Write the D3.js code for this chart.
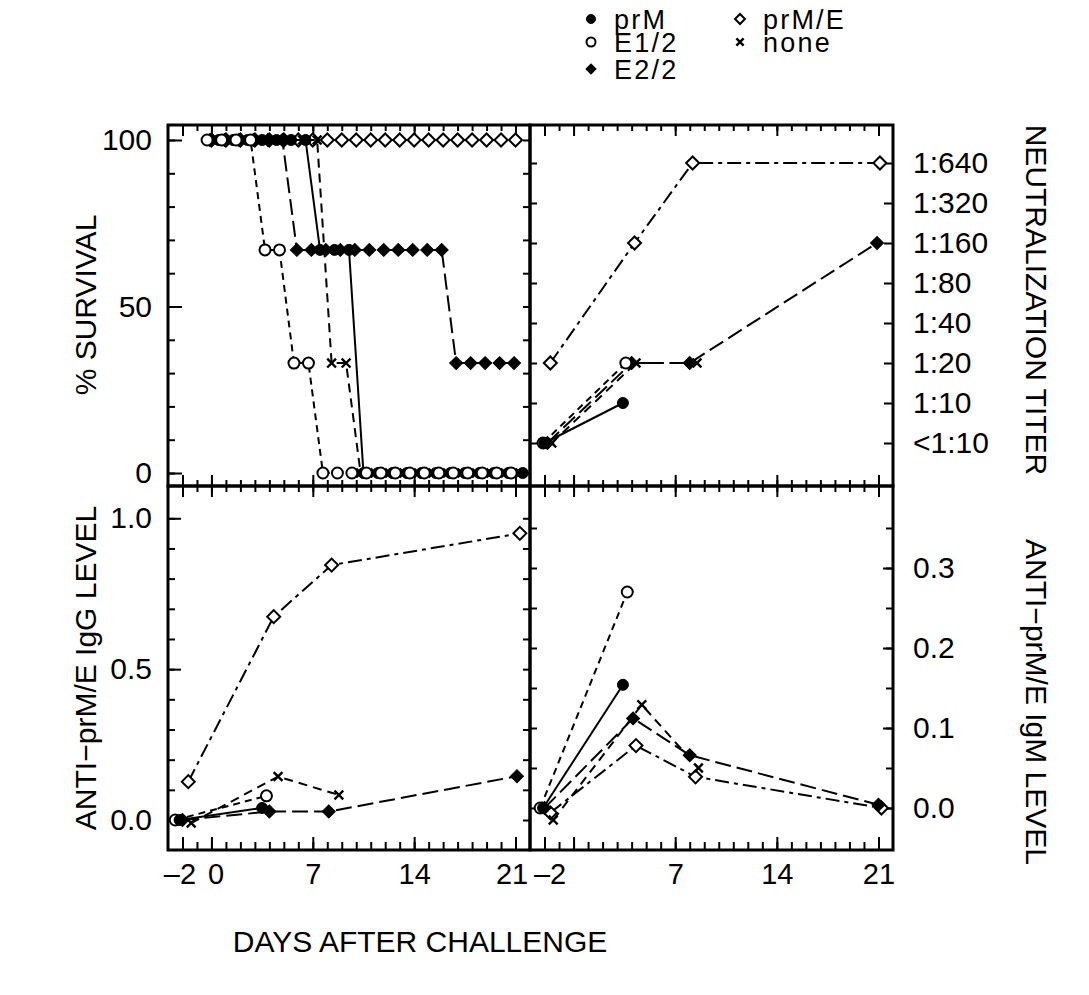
<!DOCTYPE html>
<html>
<head>
<meta charset="utf-8">
<script src="https://cdn.jsdelivr.net/npm/d3@7"></script>
<style>
body { margin: 0; background: #fff; }
</style>
</head>
<body>
<script>
// ---- data ----
var groups = ["prM", "E1/2", "E2/2", "prM/E", "none"];

// % survival, one point per day (each group drawn slightly shifted in x)
var survDaysPrM = [0.5, 1.5, 2.5, 3.5, 4.5, 5.5, 6.5, 7.5, 8.5, 9.5, 10.5, 11.5, 12.5, 13.5, 14.5, 15.5, 16.5, 17.5, 18.5, 19.5, 20.5, 21.5];
var survPrM = [100, 100, 100, 100, 100, 100, 100, 67, 67, 67, 0, 0, 0, 0, 0, 0, 0, 0, 0, 0, 0, 0];
var survDaysE12 = [-0.3, 0.7, 1.7, 2.7, 3.7, 4.7, 5.7, 6.7, 7.7, 8.7, 9.7, 10.7, 11.7, 12.7, 13.7, 14.7, 15.7, 16.7, 17.7, 18.7, 19.7, 20.7];
var survE12 = [100, 100, 100, 100, 67, 67, 33, 33, 0, 0, 0, 0, 0, 0, 0, 0, 0, 0, 0, 0, 0, 0];
var survDaysE22 = [-0.1, 0.9, 1.9, 2.9, 3.9, 4.9, 5.9, 6.9, 7.9, 8.9, 9.9, 10.9, 11.9, 12.9, 13.9, 14.9, 15.9, 16.9, 17.9, 18.9, 19.9, 20.9];
var survE22 = [100, 100, 100, 100, 100, 100, 67, 67, 67, 67, 67, 67, 67, 67, 67, 67, 67, 33, 33, 33, 33, 33];
var survDaysPrME = [0, 1, 2, 3, 4, 5, 6, 7, 8, 9, 10, 11, 12, 13, 14, 15, 16, 17, 18, 19, 20, 21];
var survPrME = [100, 100, 100, 100, 100, 100, 100, 100, 100, 100, 100, 100, 100, 100, 100, 100, 100, 100, 100, 100, 100, 100];
var survDaysNone = [0.3, 1.3, 2.3, 3.3, 4.3, 5.3, 6.3, 7.3, 8.3, 9.3, 10.3, 11.3, 12.3, 13.3, 14.3, 15.3, 16.3, 17.3, 18.3, 19.3, 20.3, 21.3];
var survNone = [100, 100, 100, 100, 100, 100, 100, 100, 33, 33, 0, 0, 0, 0, 0, 0, 0, 0, 0, 0, 0, 0];

// neutralization titer
var titerLabels = ["<1:10", "1:10", "1:20", "1:40", "1:80", "1:160", "1:320", "1:640"];
var titerDaysPrM = [-2.0, 3.4];
var titerPrM = ["<1:10", "1:10"];
var titerDaysE12 = [-2.1, 3.6];
var titerE12 = ["<1:10", "1:20"];
var titerDaysE22 = [-1.8, 4.0, 8.0, 20.9];
var titerE22 = ["<1:10", "1:20", "1:20", "1:160"];
var titerDaysPrME = [-1.6, 4.2, 8.2, 21.1];
var titerPrME = ["1:20", "1:160", "1:640", "1:640"];
var titerDaysNone = [-1.5, 4.3, 8.5];
var titerNone = ["<1:10", "1:20", "1:20"];

// anti-prM/E IgG level
var iggDaysPrM = [-2.2, 3.5];
var iggPrM = [0.0, 0.04];
var iggDaysE12 = [-2.5, 3.8];
var iggE12 = [0.0, 0.08];
var iggDaysE22 = [-2.0, 4.0, 8.1, 21.1];
var iggE22 = [0.0, 0.028, 0.028, 0.145];
var iggDaysPrME = [-1.6, 4.3, 8.3, 21.3];
var iggPrME = [0.127, 0.674, 0.845, 0.95];
var iggDaysNone = [-1.4, 4.6, 8.8];
var iggNone = [-0.01, 0.144, 0.083];

// anti-prM/E IgM level
var igmDaysPrM = [-2.1, 3.4];
var igmPrM = [0.0, 0.154];
var igmDaysE12 = [-2.3, 3.7];
var igmE12 = [0.0, 0.27];
var igmDaysE22 = [-2.0, 4.1, 8.0, 21.0];
var igmE22 = [0.0, 0.112, 0.066, 0.004];
var igmDaysPrME = [-1.6, 4.3, 8.4, 21.2];
var igmPrME = [-0.006, 0.078, 0.039, 0.0];
var igmDaysNone = [-1.4, 4.7, 8.6];
var igmNone = [-0.015, 0.129, 0.05];

// tick labels
var dayTicksLeft = [-2, 0, 7, 14, 21];
var dayTicksRight = [-2, 7, 14, 21];
var survTicks = [0, 50, 100];
var iggTicks = [0.0, 0.5, 1.0];
var igmTicks = [0.0, 0.1, 0.2, 0.3];

// ---- styles ----
var ff = "'Liberation Sans', Arial, Helvetica, sans-serif";
var style = {
    "prM":   {sym: "circle",  open: false, dash: null},
    "E1/2":  {sym: "circle",  open: true,  dash: "7,5"},
    "E2/2":  {sym: "diamond", open: false, dash: "16,6"},
    "prM/E": {sym: "diamond", open: true,  dash: "14,5,4,5"},
    "none":  {sym: "x",       open: false, dash: "9,6"}
};

var W = 1089, H = 995;
var svg = d3.select("body")
    .append("svg")
    .attr("width", W)
    .attr("height", H);

svg.append("rect").attr("width", W).attr("height", H).attr("fill", "#fff");

// scales
var xL = d3.scaleLinear().domain([-3, 22]).range([168, 530]);
var xR = d3.scaleLinear().domain([-3, 22]).range([530, 893]);
var ySurv = d3.scaleLinear().domain([-3.9, 104.5]).range([486, 125]);
var yTiter = d3.scaleLinear().domain([-1.075, 7.95]).range([486, 125]);
var yIgG = d3.scaleLinear().domain([-0.0994, 1.107]).range([850, 486]);
var yIgM = d3.scaleLinear().domain([-0.0525, 0.4025]).range([850, 486]);

// ---- ticks ----
function ticks(gen, scale, tx, ty, values, size, labels, pad, fs) {
    var ax = gen(scale)
        .tickValues(values)
        .tickSize(size)
        .tickSizeOuter(0)
        .tickPadding(pad || 0)
        .tickFormat(function(d, i) { return labels ? labels[i] : ""; });
    var g = svg.append("g")
        .attr("transform", "translate(" + tx + "," + ty + ")")
        .call(ax)
        .attr("font-family", ff)
        .attr("font-size", fs || 30);
    g.select(".domain").remove();
    g.selectAll(".tick line").attr("stroke", "#000").attr("stroke-width", 2);
    g.selectAll(".tick text").attr("fill", "#000");
    return g;
}

var dash = function(d) { return d < 0 ? "\u2013" + (-d) : "" + d; };
var dayMinor = d3.range(-2, 22);
var survMinor = d3.range(0, 101, 10);
var iggMinor = d3.range(0, 11).map(function(d) { return d / 10; });
var igmMinor = d3.range(0, 8).map(function(d) { return d / 20; });
var titerIdx = d3.range(0, titerLabels.length);

[xL, xR].forEach(function(xs) {
    // top edge
    ticks(d3.axisTop, xs, 0, 125, dayMinor, -6);
    ticks(d3.axisTop, xs, 0, 125, dayTicksLeft, -11);
    // middle horizontal boundary, ticks both ways
    ticks(d3.axisBottom, xs, 0, 486, dayMinor, -6);
    ticks(d3.axisBottom, xs, 0, 486, dayTicksLeft, -11);
    ticks(d3.axisTop, xs, 0, 486, dayMinor, -6);
    ticks(d3.axisTop, xs, 0, 486, dayTicksLeft, -11);
    // bottom edge
    ticks(d3.axisBottom, xs, 0, 850, dayMinor, -8);
    ticks(d3.axisBottom, xs, 0, 850, dayTicksLeft, -13);
});
var gxl = ticks(d3.axisBottom, xL, 0, 850, dayTicksLeft, 0, dayTicksLeft.map(dash), 13, 29);
gxl.selectAll(".tick text").attr("dx", function(d) { return d === -2 ? -3 : d === 0 ? 4 : d === 21 ? -4 : 0; });
var gxr = ticks(d3.axisBottom, xR, 0, 850, dayTicksRight, 0, dayTicksRight.map(dash), 13, 29);
gxr.selectAll(".tick text").attr("dx", function(d) { return d === -2 ? 5 : 0; });

// survival axis
ticks(d3.axisLeft, ySurv, 168, 0, survMinor, -7);
ticks(d3.axisLeft, ySurv, 168, 0, survTicks, -14, survTicks.map(String), 16);
ticks(d3.axisRight, ySurv, 530, 0, survMinor, -7);
// titer axis
ticks(d3.axisLeft, yTiter, 530, 0, titerIdx, -7);
ticks(d3.axisRight, yTiter, 893, 0, titerIdx, -9, titerLabels, 20);
// IgG axis
ticks(d3.axisLeft, yIgG, 168, 0, iggMinor, -7);
ticks(d3.axisLeft, yIgG, 168, 0, iggTicks, -13, iggTicks.map(function(d) { return d.toFixed(1); }), 16);
ticks(d3.axisRight, yIgG, 530, 0, iggMinor, -7);
// IgM axis
ticks(d3.axisLeft, yIgM, 530, 0, igmMinor, -7);
ticks(d3.axisRight, yIgM, 893, 0, igmMinor, -7);
ticks(d3.axisRight, yIgM, 893, 0, igmTicks, -10, igmTicks.map(function(d) { return d.toFixed(1); }), 20);

// frames
[[xL, ySurv], [xR, yTiter], [xL, yIgG], [xR, yIgM]].forEach(function(p) {
    var r0 = p[0].range(), r1 = p[1].range();
    svg.append("rect")
        .attr("x", r0[0]).attr("y", r1[1])
        .attr("width", r0[1] - r0[0]).attr("height", r1[0] - r1[1])
        .attr("fill", "none").attr("stroke", "#000").attr("stroke-width", 3);
});

// ---- series ----
var symCircle = d3.symbol().type(d3.symbolCircle);
var symSquare = d3.symbol().type(d3.symbolSquare);

function addMarker(g, type, open, cx, cy, s) {
    var m;
    if (type === "circle") {
        m = g.append("path").attr("d", symCircle.size(Math.PI * s * s)());
    } else if (type === "diamond") {
        m = g.append("path").attr("d", symSquare.size(2 * s * s)());
        m.attr("transform", "translate(" + cx + "," + cy + ") rotate(45)");
    } else {
        var r = s * 0.8;
        m = g.append("path").attr("d", "M" + (-r) + "," + (-r) + "L" + r + "," + r + "M" + (-r) + "," + r + "L" + r + "," + (-r));
        m.attr("fill", "none").attr("stroke", "#000").attr("stroke-width", 2.4);
    }
    if (type !== "diamond") m.attr("transform", "translate(" + cx + "," + cy + ")");
    if (type !== "x") {
        m.attr("fill", open ? "#fff" : "#000")
         .attr("stroke", "#000")
         .attr("stroke-width", open ? 2 : 1);
    }
    return m;
}

function drawSeries(xs, ys, days, vals, name) {
    var st = style[name];
    var pts = days.map(function(d, i) { return [xs(d), ys(vals[i])]; });
    svg.append("path")
        .attr("d", d3.line()(pts))
        .attr("fill", "none")
        .attr("stroke", "#000")
        .attr("stroke-width", 2)
        .attr("stroke-dasharray", st.dash);
    var g = svg.append("g");
    pts.forEach(function(p) {
        addMarker(g, st.sym, st.open, p[0], p[1], st.sym === "diamond" ? 6.5 : 5.5);
    });
}

var titerScale = function(label) { return yTiter(titerLabels.indexOf(label)); };

// survival
drawSeries(xL, ySurv, survDaysPrME, survPrME, "prM/E");
drawSeries(xL, ySurv, survDaysE22, survE22, "E2/2");
drawSeries(xL, ySurv, survDaysPrM, survPrM, "prM");
drawSeries(xL, ySurv, survDaysNone, survNone, "none");
drawSeries(xL, ySurv, survDaysE12, survE12, "E1/2");

// titer
drawSeries(xR, titerScale, titerDaysPrME, titerPrME, "prM/E");
drawSeries(xR, titerScale, titerDaysE22, titerE22, "E2/2");
drawSeries(xR, titerScale, titerDaysNone, titerNone, "none");
drawSeries(xR, titerScale, titerDaysE12, titerE12, "E1/2");
drawSeries(xR, titerScale, titerDaysPrM, titerPrM, "prM");

// IgG
drawSeries(xL, yIgG, iggDaysPrME, iggPrME, "prM/E");
drawSeries(xL, yIgG, iggDaysE22, iggE22, "E2/2");
drawSeries(xL, yIgG, iggDaysNone, iggNone, "none");
drawSeries(xL, yIgG, iggDaysE12, iggE12, "E1/2");
drawSeries(xL, yIgG, iggDaysPrM, iggPrM, "prM");

// IgM
drawSeries(xR, yIgM, igmDaysPrME, igmPrME, "prM/E");
drawSeries(xR, yIgM, igmDaysE22, igmE22, "E2/2");
drawSeries(xR, yIgM, igmDaysNone, igmNone, "none");
drawSeries(xR, yIgM, igmDaysE12, igmE12, "E1/2");
drawSeries(xR, yIgM, igmDaysPrM, igmPrM, "prM");

// ---- legend ----
var legendPos = {
    "prM":   [591, 19],
    "E1/2":  [591, 42],
    "E2/2":  [591, 69],
    "prM/E": [740, 19],
    "none":  [740, 42]
};
var lg = svg.append("g");
groups.forEach(function(name) {
    var p = legendPos[name], st = style[name];
    addMarker(lg, st.sym, st.open, p[0], p[1], st.sym === "diamond" ? 5 : 4.5);
    lg.append("text")
        .attr("x", p[0] + 23)
        .attr("y", p[1] + 10)
        .attr("font-family", ff)
        .attr("font-size", 27)
        .attr("letter-spacing", 2.2)
        .text(name);
});

// ---- axis titles ----
function title(txt, x, y, rot) {
    svg.append("text")
        .attr("transform", "translate(" + x + "," + y + ") rotate(" + rot + ")")
        .attr("text-anchor", "middle")
        .attr("font-family", ff)
        .attr("font-size", 30)
        .text(txt);
}
title("% SURVIVAL", 96, 305, -90);
title("ANTI\u2212prM/E IgG LEVEL", 96, 668, -90);
title("NEUTRALIZATION TITER", 1026, 300, 90);
title("ANTI\u2212prM/E IgM LEVEL", 1026, 702, 90);
title("DAYS AFTER CHALLENGE", 420, 952, 0);
</script>
</body>
</html>
